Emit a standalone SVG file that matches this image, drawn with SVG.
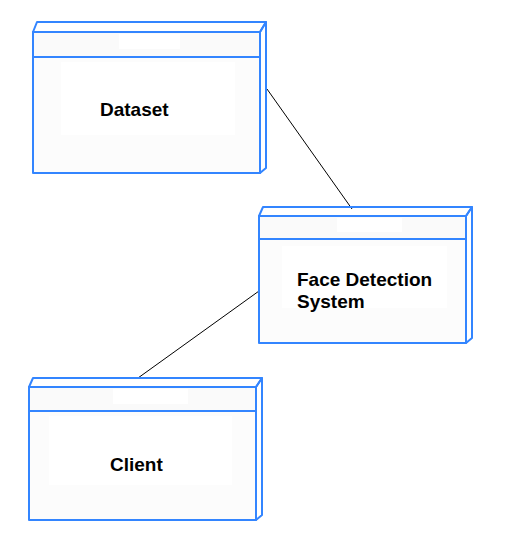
<svg xmlns="http://www.w3.org/2000/svg" width="510" height="535" viewBox="0 0 510 535">
<style>
.edge{fill:none;stroke:#3385ff;stroke-width:2;stroke-linejoin:round}
.hdr{fill:#fafafa}
.body{fill:#fcfcfc}
.in{fill:#ffffff}
.lbl{font-family:"Liberation Sans",Arial,sans-serif;font-weight:bold;font-size:19px;fill:#000}
.conn{stroke:#000;stroke-width:1;fill:none}
</style>
<rect width="510" height="535" fill="#ffffff"/>
<g id="connectors">
<line class="conn" x1="267" y1="89" x2="352" y2="209"/>
<line class="conn" x1="138" y1="378" x2="259" y2="291"/>
</g>
<g id="dataset">
<rect class="hdr" x="33" y="32" width="227" height="25"/>
<rect class="in" x="119" y="34" width="61" height="15"/>
<rect class="body" x="33" y="57" width="227" height="116"/>
<rect class="in" x="61" y="62" width="174" height="73"/>
<polygon class="edge" points="33,32 37,22 266,22 260,32"/>
<polygon class="edge" points="260,32 266,22 266,168 260,173"/>
<rect class="edge" x="33" y="32" width="227" height="141"/>
<line class="edge" x1="33" y1="57" x2="260" y2="57"/>
<text class="lbl" x="100" y="116">Dataset</text>
</g>
<g id="face">
<rect class="hdr" x="259" y="216" width="207" height="23"/>
<rect class="in" x="337" y="218" width="65" height="14"/>
<rect class="body" x="259" y="239" width="207" height="104"/>
<rect class="in" x="282" y="246" width="165" height="62"/>
<polygon class="edge" points="259,216 263,207 472,207 466,216"/>
<polygon class="edge" points="466,216 472,207 472,338 466,343"/>
<rect class="edge" x="259" y="216" width="207" height="127"/>
<line class="edge" x1="259" y1="239" x2="466" y2="239"/>
<text class="lbl" x="297" y="286">Face Detection</text>
<text class="lbl" x="297" y="308">System</text>
</g>
<g id="client">
<rect class="hdr" x="29" y="387" width="227" height="24"/>
<rect class="in" x="113" y="389" width="75" height="15"/>
<rect class="body" x="29" y="411" width="227" height="109"/>
<rect class="in" x="49" y="416" width="183" height="69"/>
<polygon class="edge" points="29,387 33,378 262,378 256,387"/>
<polygon class="edge" points="256,387 262,378 262,515 256,520"/>
<rect class="edge" x="29" y="387" width="227" height="133"/>
<line class="edge" x1="29" y1="411" x2="256" y2="411"/>
<text class="lbl" x="110" y="471">Client</text>
</g>
</svg>
